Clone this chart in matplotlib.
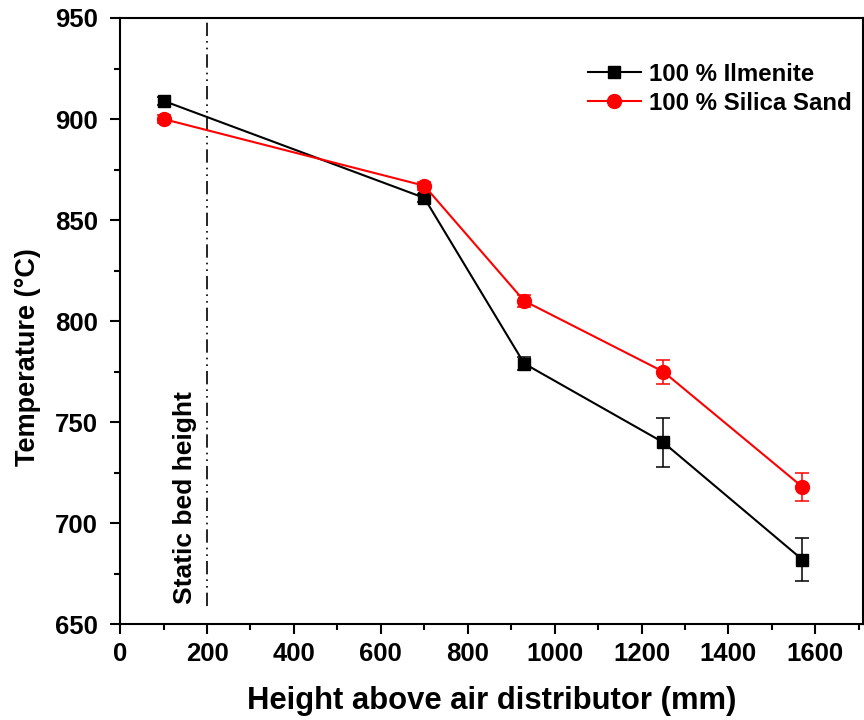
import matplotlib
matplotlib.use("Agg")
import matplotlib.pyplot as plt
from matplotlib.ticker import MultipleLocator
from matplotlib.lines import Line2D

plt.rcParams['font.family'] = ['Liberation Sans', 'DejaVu Sans']
plt.rcParams['font.weight'] = 'bold'

# Measurement heights above the distributor (mm)
height = [100, 700, 930, 1250, 1570]

# Bed temperatures (°C) and standard deviations
ilmenite_temp = [909, 861, 779, 740, 682]
ilmenite_err = [2, 2, 3, 12, 10.5]
silica_temp = [900, 867, 810, 775, 718]
silica_err = [2, 2, 3, 6, 7]

static_bed = 200

fig = plt.figure(figsize=(8.64, 7.2), dpi=100)
ax = fig.add_axes([0.139, 0.133, 0.86, 0.842])

ax.errorbar(height, ilmenite_temp, yerr=ilmenite_err, color='black', marker='s',
            markersize=9, linewidth=1.5, capsize=5, elinewidth=1.1, capthick=1.1,
            zorder=3)
ax.errorbar(height, silica_temp, yerr=silica_err, color='red', marker='o',
            markersize=10, linewidth=1.5, capsize=5, elinewidth=1.1, capthick=1.1,
            zorder=3)

# Static bed height marker
ax.axvline(static_bed, ymin=0.03, ymax=1.0, color='black', linewidth=1.2,
           linestyle=(0, (8, 3, 1, 3, 1, 3)))
ax.text(150, 660, 'Static bed height', rotation=90, ha='center', va='bottom',
        fontsize=19, fontweight='bold')

ax.set_xlim(0, 1710)
ax.set_ylim(650, 950)
ax.xaxis.set_major_locator(MultipleLocator(200))
ax.xaxis.set_minor_locator(MultipleLocator(100))
ax.yaxis.set_major_locator(MultipleLocator(50))
ax.yaxis.set_minor_locator(MultipleLocator(25))

ax.tick_params(which='both', direction='out', top=False, right=True, labelsize=18.5, width=1.5)
ax.tick_params(which='major', length=7)
ax.tick_params(which='minor', length=4)
ax.tick_params(axis='x', pad=6)
ax.tick_params(axis='y', pad=9)
for side in ['left', 'bottom', 'right', 'top']:
    ax.spines[side].set_linewidth(1.5)

ax.set_xlabel('Height above air distributor (mm)', fontsize=22.3, fontweight='bold', labelpad=14)
ax.set_ylabel('Temperature (°C)', fontsize=19.5, fontweight='bold')
ax.yaxis.set_label_coords(-0.107, 0.44)

# Legend entries drawn without error bars
handles = [
    Line2D([], [], color='black', marker='s', markersize=9, linewidth=1.5),
    Line2D([], [], color='red', marker='o', markersize=10, linewidth=1.5),
]
labels = ['100 % Ilmenite', '100 % Silica Sand']
ax.legend(handles, labels, loc='upper right', bbox_to_anchor=(1.014, 0.962), frameon=False,
          fontsize=17.3, handlelength=2.2, handletextpad=0.35, labelspacing=0.25)

fig.savefig('out.png', dpi=100)
